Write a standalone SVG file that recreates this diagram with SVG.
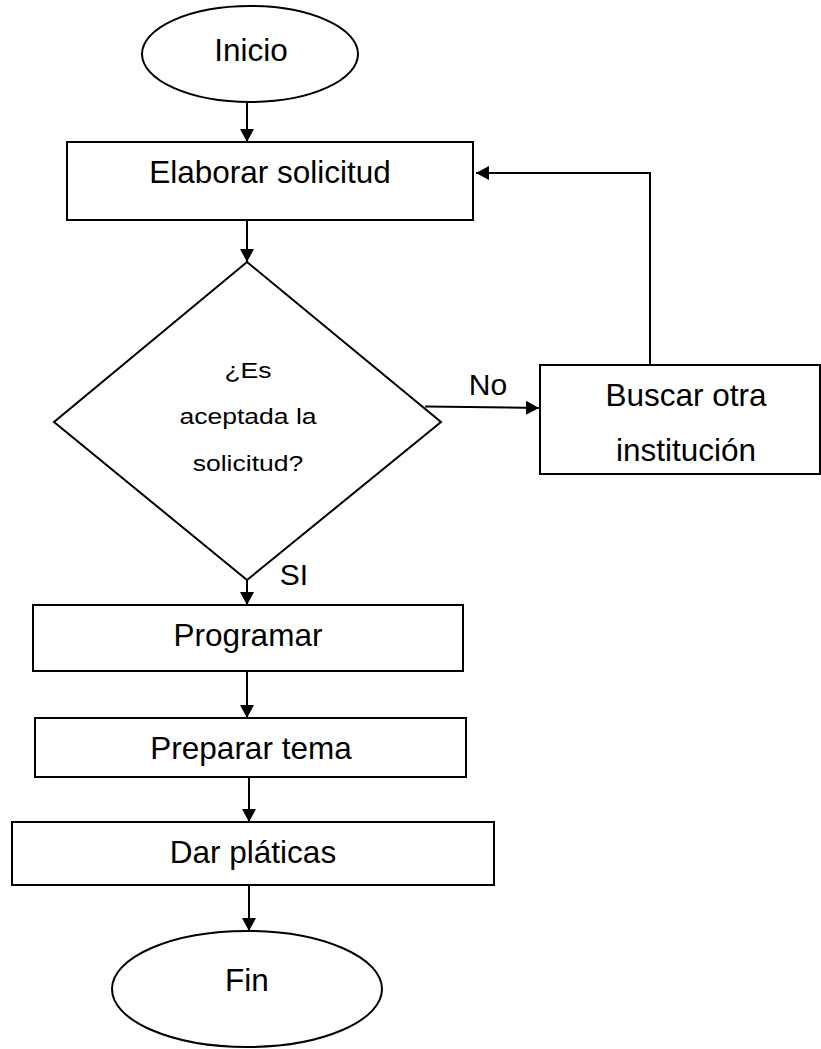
<svg xmlns="http://www.w3.org/2000/svg" width="821" height="1049" viewBox="0 0 821 1049">
<style>
.s{fill:#fff;stroke:#000;stroke-width:2}
.t{font-family:"Liberation Sans",Arial,sans-serif;font-size:31.5px;fill:#000;text-anchor:middle}
.d{font-family:"Liberation Sans",Arial,sans-serif;font-size:22.5px;fill:#000;text-anchor:middle}
.c{fill:none;stroke:#000;stroke-width:2}
</style>
<defs>
<marker id="ah" markerUnits="userSpaceOnUse" markerWidth="14" markerHeight="14" refX="13" refY="7" orient="auto">
<path d="M0,0 L13,7 L0,14 z" fill="#000"/>
</marker>
</defs>
<rect width="821" height="1049" fill="#fff"/>
<g id="inicio">
<ellipse class="s" cx="250" cy="54" rx="108" ry="48"/>
<text class="t" x="251" y="61">Inicio</text>
</g>
<g id="elaborar">
<rect class="s" x="67" y="142" width="406" height="78"/>
<text class="t" x="270" y="183">Elaborar solicitud</text>
</g>
<g id="decision">
<polygon class="s" points="247,262 441,422 247,580 54,422"/>
<g transform="translate(248,0) scale(1.18,1)">
<text class="d" x="0" y="378">¿Es</text>
<text class="d" x="0" y="424">aceptada la</text>
<text class="d" x="0" y="471">solicitud?</text>
</g>
</g>
<g id="buscar">
<rect class="s" x="540" y="365" width="280" height="109"/>
<text class="t" x="686" y="406">Buscar otra</text>
<text class="t" x="686" y="461">institución</text>
</g>
<g id="programar">
<rect class="s" x="33" y="605" width="430" height="66"/>
<text class="t" x="248" y="646">Programar</text>
</g>
<g id="preparar">
<rect class="s" x="35" y="718" width="431" height="59"/>
<text class="t" x="251" y="759">Preparar tema</text>
</g>
<g id="dar">
<rect class="s" x="12" y="822" width="482" height="63"/>
<text class="t" x="253" y="863">Dar pláticas</text>
</g>
<g id="fin">
<ellipse class="s" cx="247" cy="989" rx="135" ry="58"/>
<text class="t" x="247" y="991">Fin</text>
</g>
<g id="connectors">
<line class="c" x1="247" y1="102" x2="247" y2="142" marker-end="url(#ah)"/>
<line class="c" x1="247" y1="220" x2="247" y2="262" marker-end="url(#ah)"/>
<line class="c" x1="425" y1="406.5" x2="539" y2="408" marker-end="url(#ah)"/>
<polyline class="c" points="650,365 650,173 476,173" marker-end="url(#ah)"/>
<line class="c" x1="247" y1="580" x2="247" y2="605" marker-end="url(#ah)"/>
<line class="c" x1="247" y1="671" x2="247" y2="718" marker-end="url(#ah)"/>
<line class="c" x1="249" y1="777" x2="249" y2="822" marker-end="url(#ah)"/>
<line class="c" x1="249" y1="885" x2="249" y2="931" marker-end="url(#ah)"/>
<text class="t" x="488" y="395" style="font-size:30px">No</text>
<text class="t" x="294" y="585" style="font-size:30px">SI</text>
</g>
</svg>
